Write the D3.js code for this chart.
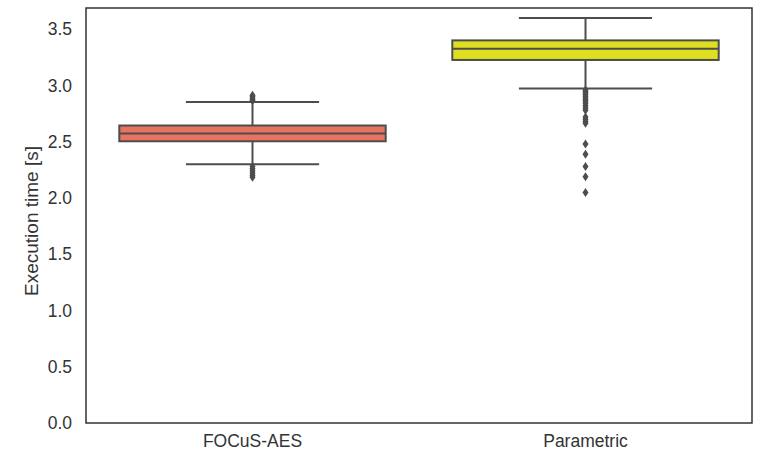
<!DOCTYPE html>
<html>
<head>
<meta charset="utf-8">
<script src="https://cdn.jsdelivr.net/npm/d3@7"></script>
<style>
  body { margin: 0; background: #fff; }
  text { font-family: "Liberation Sans", Arial, sans-serif; fill: #333; }
</style>
</head>
<body>
<div id="chart"></div>
<script>
const WIDTH = 767;
const HEIGHT = 454;
const MARGIN = { top: 8, right: 15, bottom: 31, left: 86 };
const LINE_COLOR = '#4d4d4d';

// categories and box statistics
const categories = ['FOCuS-AES', 'Parametric'];
const colors = ['#e8735e', '#dfdf20'];
const q1 = [2.505, 3.228];
const median = [2.575, 3.328];
const q3 = [2.645, 3.402];
const whiskerLow = [2.30, 2.975];
const whiskerHigh = [2.855, 3.600];
const outliers = [
  [2.865, 2.875, 2.89, 2.905, 2.915, 2.28, 2.26, 2.24, 2.22, 2.20, 2.185],
  [2.96, 2.95, 2.935, 2.92, 2.905, 2.89, 2.875, 2.86, 2.84, 2.82, 2.80, 2.78,
   2.72, 2.70, 2.68, 2.665, 2.48, 2.39, 2.28, 2.19, 2.05]
];
const yTicks = [0.0, 0.5, 1.0, 1.5, 2.0, 2.5, 3.0, 3.5];

document.addEventListener('DOMContentLoaded', function() {
  drawChart();
});

function drawChart()
{
  var svg = d3.select('#chart').append('svg')
    .attr('width', WIDTH)
    .attr('height', HEIGHT);

  var x = d3.scaleBand()
    .domain(categories)
    .range([MARGIN.left, WIDTH - MARGIN.right])
    .paddingInner(0.2)
    .paddingOuter(0.1);

  var y = d3.scaleLinear()
    .domain([0, 3.69])
    .range([HEIGHT - MARGIN.bottom, MARGIN.top]);

  var data = categories.map(function(c, i) {
    return {
      name: c, color: colors[i], q1: q1[i], med: median[i], q3: q3[i],
      lo: whiskerLow[i], hi: whiskerHigh[i], out: outliers[i]
    };
  });

  // y axis
  var yAxis = svg.append('g')
    .attr('transform', 'translate(' + MARGIN.left + ',0)')
    .call(d3.axisLeft(y).tickValues(yTicks).tickSize(0).tickPadding(14)
      .tickFormat(d3.format('.1f')));
  yAxis.select('.domain').remove();
  yAxis.selectAll('text').style('font-size', '17.5px');

  // x axis
  var xAxis = svg.append('g')
    .attr('transform', 'translate(0,' + (HEIGHT - MARGIN.bottom) + ')')
    .call(d3.axisBottom(x).tickSize(0).tickPadding(12));
  xAxis.select('.domain').remove();
  xAxis.selectAll('text').style('font-size', '17.5px');

  svg.append('text')
    .attr('transform', 'translate(38,221) rotate(-90)')
    .attr('text-anchor', 'middle')
    .style('font-size', '19px')
    .text('Execution time [s]');

  var g = svg.selectAll('g.box')
    .data(data)
    .enter()
    .append('g')
    .attr('class', 'box');

  var bw = x.bandwidth();

  // whisker stems
  g.append('line')
    .attr('x1', function(d) { return x(d.name) + bw / 2; })
    .attr('x2', function(d) { return x(d.name) + bw / 2; })
    .attr('y1', function(d) { return y(d.hi); })
    .attr('y2', function(d) { return y(d.q3); })
    .style('stroke', LINE_COLOR).style('stroke-width', 2);
  g.append('line')
    .attr('x1', function(d) { return x(d.name) + bw / 2; })
    .attr('x2', function(d) { return x(d.name) + bw / 2; })
    .attr('y1', function(d) { return y(d.q1); })
    .attr('y2', function(d) { return y(d.lo); })
    .style('stroke', LINE_COLOR).style('stroke-width', 2);

  // caps
  ['hi', 'lo'].forEach(function(k) {
    g.append('line')
      .attr('x1', function(d) { return x(d.name) + bw / 4; })
      .attr('x2', function(d) { return x(d.name) + bw * 3 / 4; })
      .attr('y1', function(d) { return y(d[k]); })
      .attr('y2', function(d) { return y(d[k]); })
      .style('stroke', LINE_COLOR).style('stroke-width', 2);
  });

  // box
  g.append('rect')
    .attr('x', function(d) { return x(d.name); })
    .attr('y', function(d) { return y(d.q3); })
    .attr('width', bw)
    .attr('height', function(d) { return y(d.q1) - y(d.q3); })
    .style('fill', function(d) { return d.color; })
    .style('stroke', LINE_COLOR)
    .style('stroke-width', 2);

  // median
  g.append('line')
    .attr('x1', function(d) { return x(d.name); })
    .attr('x2', function(d) { return x(d.name) + bw; })
    .attr('y1', function(d) { return y(d.med); })
    .attr('y2', function(d) { return y(d.med); })
    .style('stroke', LINE_COLOR).style('stroke-width', 2);

  // outliers (thin diamonds)
  g.each(function(d) {
    d3.select(this).selectAll('path.flier')
      .data(d.out)
      .enter()
      .append('path')
      .attr('class', 'flier')
      .attr('d', function(v) {
        var cx = x(d.name) + bw / 2, cy = y(v);
        return 'M' + cx + ',' + (cy - 4.5) + 'L' + (cx + 3) + ',' + cy +
               'L' + cx + ',' + (cy + 4.5) + 'L' + (cx - 3) + ',' + cy + 'Z';
      })
      .style('fill', LINE_COLOR);
  });

  // frame
  svg.append('rect')
    .attr('x', MARGIN.left)
    .attr('y', MARGIN.top)
    .attr('width', WIDTH - MARGIN.left - MARGIN.right)
    .attr('height', HEIGHT - MARGIN.top - MARGIN.bottom)
    .style('fill', 'none')
    .style('stroke', '#333')
    .style('stroke-width', 1.5);
}
</script>
</body>
</html>
